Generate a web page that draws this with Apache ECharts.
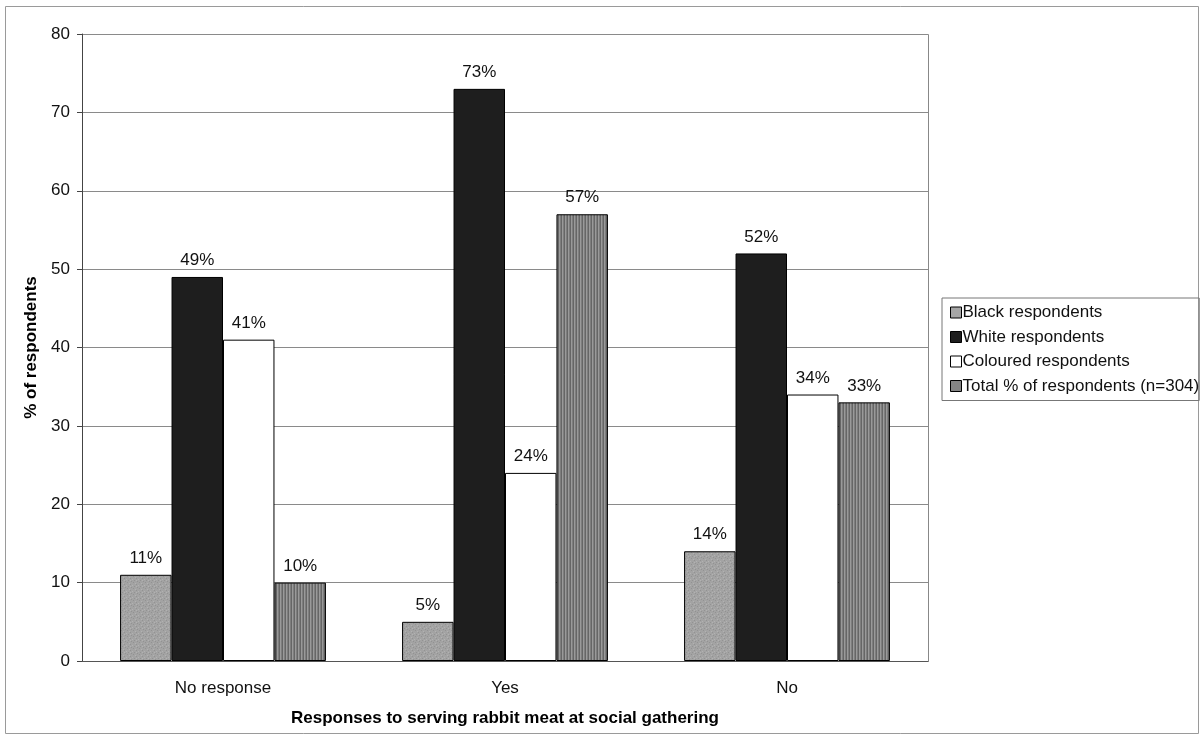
<!DOCTYPE html>
<html>
<head>
<meta charset="utf-8">
<script src="https://cdn.jsdelivr.net/npm/echarts@6/dist/echarts.min.js"></script>
<style>
  html, body { margin: 0; padding: 0; background: #fff; }
  #chart { width: 1204px; height: 740px; }
</style>
</head>
<body>
<div id="chart"></div>
<script>
// Survey responses to serving rabbit meat at a social gathering
var categories = ['No response', 'Yes', 'No'];
var seriesNames = ['Black respondents', 'White respondents', 'Coloured respondents', 'Total % of respondents (n=304)'];
var blackValues = [11, 5, 14];
var whiteValues = [49, 73, 52];
var colouredValues = [41, 24, 34];
var totalValues = [10, 57, 33];
var yTicks = { min: 0, max: 80, interval: 10 };

var FONT = 'Liberation Sans, Arial, sans-serif';
var FS = 17;

// Fine speckled grey fill
function speckle() {
  var c = document.createElement('canvas');
  c.width = 6; c.height = 6;
  var g = c.getContext('2d');
  g.fillStyle = '#a3a3a3';
  g.fillRect(0, 0, 6, 6);
  g.fillStyle = '#929292';
  g.fillRect(1, 0, 1, 1); g.fillRect(4, 2, 1, 1); g.fillRect(2, 4, 1, 1); g.fillRect(5, 5, 1, 1);
  g.fillStyle = '#b2b2b2';
  g.fillRect(3, 1, 1, 1); g.fillRect(0, 3, 1, 1); g.fillRect(4, 4, 1, 1);
  return c;
}
// Vertical pinstripe fill
function stripes() {
  var c = document.createElement('canvas');
  c.width = 3; c.height = 4;
  var g = c.getContext('2d');
  g.fillStyle = '#9a9a9a';
  g.fillRect(0, 0, 3, 4);
  g.fillStyle = '#666666';
  g.fillRect(0, 0, 1, 4);
  g.fillStyle = '#7e7e7e';
  g.fillRect(2, 0, 1, 4);
  return c;
}

var fills = [
  { image: speckle(), repeat: 'repeat' },
  '#1e1e1e',
  '#ffffff',
  { image: stripes(), repeat: 'repeat' }
];
var legendColors = ['#a6a6a6', '#1e1e1e', '#ffffff', '#858585'];
var dataSets = [blackValues, whiteValues, colouredValues, totalValues];

var series = dataSets.map(function (vals, i) {
  return {
    name: seriesNames[i],
    type: 'bar',
    data: vals,
    barGap: '0%',
    barCategoryGap: '27%',
    color: legendColors[i],
    itemStyle: { color: fills[i], borderColor: '#000', borderWidth: 1 },
    label: {
      show: true,
      position: 'top',
      distance: 8,
      formatter: '{c}%',
      fontFamily: FONT,
      fontSize: FS,
      color: '#111'
    },
    emphasis: { disabled: true },
    animation: false
  };
});

var chart = echarts.init(document.getElementById('chart'), null, { renderer: 'canvas' });
chart.setOption({
  backgroundColor: '#fff',
  animation: false,
  graphic: [{
    type: 'rect',
    shape: { x: 5.5, y: 6.5, width: 1193, height: 727 },
    style: { fill: 'none', stroke: '#9a9a9a', lineWidth: 1 },
    silent: true,
    z: -1
  }, {
    type: 'rect',
    shape: { x: 82.5, y: 34.5, width: 846, height: 627 },
    style: { fill: 'none', stroke: '#888', lineWidth: 1 },
    silent: true,
    z: 0
  }],
  grid: { left: 82, right: 276, top: 34, bottom: 79 },
  legend: {
    orient: 'vertical',
    left: 942,
    top: 298,
    padding: [6, 0, 6, 8],
    itemGap: 7.5,
    itemWidth: 11,
    itemHeight: 11,
    borderColor: '#777',
    borderWidth: 1,
    icon: 'rect',
    data: seriesNames.map(function (n, i) {
      return { name: n, itemStyle: { color: legendColors[i], borderColor: '#000', borderWidth: 1 } };
    }),
    textStyle: { fontFamily: FONT, fontSize: FS, lineHeight: 17, color: '#111', padding: [0, 0, 0, -4] }
  },
  xAxis: {
    type: 'category',
    data: categories,
    name: 'Responses to serving rabbit meat at social gathering',
    nameLocation: 'middle',
    nameGap: 49,
    nameTextStyle: { fontFamily: FONT, fontSize: FS, fontWeight: 'bold', color: '#000' },
    axisLine: { lineStyle: { color: '#555' } },
    axisTick: { show: false },
    axisLabel: { fontFamily: FONT, fontSize: FS, color: '#111', margin: 19 }
  },
  yAxis: {
    type: 'value',
    min: yTicks.min,
    max: yTicks.max,
    interval: yTicks.interval,
    name: '% of respondents',
    nameLocation: 'middle',
    nameGap: 40,
    nameTextStyle: { fontFamily: FONT, fontSize: FS, fontWeight: 'bold', color: '#000' },
    axisLine: { show: true, lineStyle: { color: '#444' } },
    axisTick: { show: true, length: 5, lineStyle: { color: '#444' } },
    axisLabel: { fontFamily: FONT, fontSize: FS, color: '#111', margin: 12 },
    splitLine: { lineStyle: { color: '#8a8a8a', width: 1 } }
  },
  series: series
});
</script>
</body>
</html>
